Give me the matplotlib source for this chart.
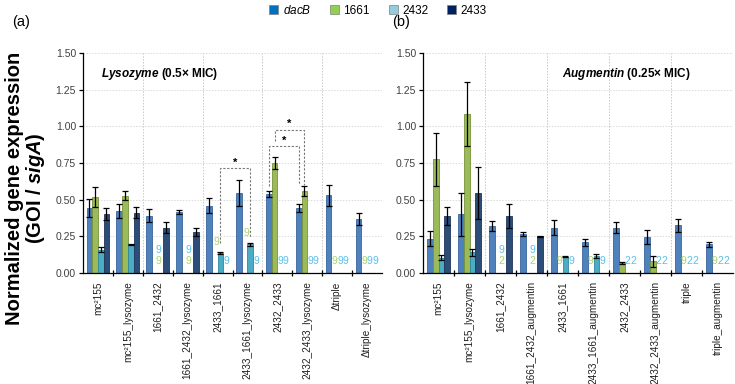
import numpy as np
import matplotlib
matplotlib.use("Agg")
import matplotlib.pyplot as plt
from matplotlib.patches import Patch

plt.rcParams['font.family'] = ['Liberation Sans', 'DejaVu Sans']
plt.rcParams['mathtext.fontset'] = 'custom'
plt.rcParams['mathtext.rm'] = 'Liberation Sans'
plt.rcParams['mathtext.it'] = 'Liberation Sans:italic'
plt.rcParams['mathtext.bf'] = 'Liberation Sans:bold'
plt.rcParams['mathtext.bfit'] = 'Liberation Sans:bold:italic'

nan = np.nan
series = ['dacB', '1661', '2432', '2433']

# ---- Panel (a): Lysozyme
left_categories = ['mc²155', 'mc²155_lysozyme', '1661_2432', '1661_2432_lysozyme',
                   '2433_1661', '2433_1661_lysozyme', '2432_2433', '2432_2433_lysozyme',
                   'Δtriple', 'Δtriple_lysozyme']
left_dacB = [0.445, 0.425, 0.39, 0.415, 0.46, 0.545, 0.54, 0.445, 0.53, 0.37]
left_dacB_err = [0.06, 0.048, 0.045, 0.012, 0.05, 0.09, 0.02, 0.027, 0.07, 0.04]
left_1661 = [0.515, 0.528, nan, nan, nan, nan, 0.75, 0.56, nan, nan]
left_1661_err = [0.068, 0.028, nan, nan, nan, nan, 0.04, 0.035, nan, nan]
left_2432 = [0.16, 0.197, nan, nan, 0.134, 0.195, nan, nan, nan, nan]
left_2432_err = [0.02, 0.004, nan, nan, 0.006, 0.01, nan, nan, nan, nan]
left_2433 = [0.40, 0.41, 0.31, 0.277, nan, nan, nan, nan, nan, nan]
left_2433_err = [0.04, 0.037, 0.035, 0.027, nan, nan, nan, nan, nan, nan]
left_nd_chars = [['', '', '', ''], ['', '', '', ''], ['', '9', '9', ''], ['', '9', '9', ''],
                 ['', '9', '', '9'], ['', '9', '', '9'], ['', '', '9', '9'], ['', '', '9', '9'],
                 ['', '9', '9', '9'], ['', '9', '9', '9']]

# ---- Panel (b): Augmentin
right_categories = ['mc²155', 'mc²155_lysozyme', '1661_2432', '1661_2432_augmentin',
                    '2433_1661', '2433_1661_augmentin', '2432_2433', '2432_2433_augmentin',
                    'triple', 'triple_augmentin']
right_dacB = [0.235, 0.40, 0.32, 0.265, 0.31, 0.21, 0.31, 0.245, 0.325, 0.195]
right_dacB_err = [0.05, 0.145, 0.035, 0.015, 0.05, 0.025, 0.035, 0.05, 0.045, 0.015]
right_1661 = [0.775, 1.085, nan, nan, nan, nan, 0.07, 0.08, nan, nan]
right_1661_err = [0.18, 0.22, nan, nan, nan, nan, 0.008, 0.036, nan, nan]
right_2432 = [0.105, 0.14, nan, nan, 0.11, 0.115, nan, nan, nan, nan]
right_2432_err = [0.015, 0.025, nan, nan, 0.003, 0.012, nan, nan, nan, nan]
right_2433 = [0.39, 0.545, 0.39, 0.25, nan, nan, nan, nan, nan, nan]
right_2433_err = [0.06, 0.18, 0.08, 0.003, nan, nan, nan, nan, nan, nan]
right_nd_chars = [['', '', '', ''], ['', '', '', ''], ['', '2', '9', ''], ['', '2', '9', ''],
                  ['', '9', '', '9'], ['', '9', '', '9'], ['', '', '2', '2'], ['', '', '2', '2'],
                  ['', '9', '2', '2'], ['', '9', '2', '2']]

yticks = [0.00, 0.25, 0.50, 0.75, 1.00, 1.25, 1.50]

bar_colors = ['#4F81BD', '#9BBB59', '#4BACC6', '#2C4D78']
edge_colors = ['#3A659A', '#76923C', '#31859C', '#1F3656']
legend_colors = ['#0070C0', '#92D050', '#93CDDD', '#002060']
nd_colors = ['#4F81BD', '#A9D46E', '#5BC0EB', '#5BC0EB']

W, H = 735, 384
fig = plt.figure(figsize=(W / 100, H / 100), dpi=100)

ax_l = fig.add_axes([83 / W, 1 - 273 / H, 299 / W, 220 / H])
ax_r = fig.add_axes([423 / W, 1 - 273 / H, 310 / W, 220 / H])

bw = 0.19
offsets = np.array([-1.5, -0.5, 0.5, 1.5]) * bw


def draw_panel(ax, cats, vals, errs, nd_chars, lift):
    n = len(cats)
    centers = np.arange(n) + 0.5
    ax.set_xlim(0, n)
    ax.set_ylim(0, 1.5)
    for g in range(n // 2 - 1):
        ax.axvline(2 * (g + 1), color='#C8C8C8', lw=0.7, ls=(0, (1.5, 1.5)), zorder=0)
    ax.set_yticks(yticks)
    ax.set_yticklabels([f'{t:.2f}' for t in yticks], fontsize=7.5, color='#404040')
    ax.yaxis.grid(True, color='#DADADA', lw=0.7, ls=(0, (1.5, 1.5)), zorder=0)
    ax.set_axisbelow(True)
    for s in range(4):
        v = np.array(vals[s], dtype=float)
        e = np.array(errs[s], dtype=float)
        x = centers + offsets[s]
        ax.bar(x, v, width=bw, color=bar_colors[s], edgecolor=edge_colors[s], lw=0.6, zorder=2)
        ax.errorbar(x, v, yerr=e, fmt='none', ecolor='black', elinewidth=0.9,
                    capsize=2.3, capthick=0.9, zorder=3)
    # not-detected markers
    for g in range(n):
        chars = nd_chars[g]
        both = chars[1] and chars[2] and not chars[3]
        for s in range(4):
            c = chars[s]
            if not c:
                continue
            if both:
                xx = centers[g] + 0.02
                yy = 0.125 if s == 2 else 0.045
            else:
                xx = centers[g] + offsets[s]
                yy = 0.045
                if lift and s == 1 and not np.isnan(vals[2][g]):
                    xx = centers[g] + offsets[1] + 0.07
                    yy = vals[2][g] + errs[2][g] + 0.035
            ax.text(xx, yy, c, color=nd_colors[s], fontsize=7.5, ha='center',
                    va='bottom', zorder=4)
    # ticks
    ax.set_xticks(np.arange(1, n))
    ax.set_xticklabels([])
    ax.tick_params(axis='x', which='major', direction='inout', length=5, width=0.9, color='black')
    ax.set_xticks(centers, minor=True)
    ax.set_xticklabels(cats, minor=True, rotation=90, fontsize=7.2, color='#202020',
                       va='top', ha='center')
    ax.tick_params(axis='x', which='minor', length=0, pad=6)
    ax.tick_params(axis='y', direction='out', length=3, width=0.9, pad=2)
    for sp in ['top', 'right']:
        ax.spines[sp].set_visible(False)
    for sp in ['left', 'bottom']:
        ax.spines[sp].set_linewidth(0.9)
        ax.spines[sp].set_color('black')
    return centers


c_l = draw_panel(ax_l, left_categories,
                 [left_dacB, left_1661, left_2432, left_2433],
                 [left_dacB_err, left_1661_err, left_2432_err, left_2433_err],
                 left_nd_chars, True)
c_r = draw_panel(ax_r, right_categories,
                 [right_dacB, right_1661, right_2432, right_2433],
                 [right_dacB_err, right_1661_err, right_2432_err, right_2433_err],
                 right_nd_chars, False)

# panel titles
ax_l.text(0.06, 0.905, r'$\mathbfit{Lysozyme}$ (0.5× MIC)', transform=ax_l.transAxes,
          fontsize=8.5, fontweight='bold', ha='left', va='center')
ax_r.text(0.45, 0.905, r'$\mathbfit{Augmentin}$ (0.25× MIC)', transform=ax_r.transAxes,
          fontsize=8.5, fontweight='bold', ha='left', va='center')

# significance brackets (left panel)
def bracket(ax, x1, x2, ytop, y1, y2):
    ax.plot([x1, x1, x2, x2], [y1, ytop, ytop, y2], color='#777777', lw=0.8,
            ls=(0, (2, 1.5)), zorder=5)
    ax.text((x1 + x2) / 2, ytop + 0.005, '*', ha='center', va='bottom', fontsize=8,
            fontweight='bold', zorder=5)

bracket(ax_l, c_l[4] + offsets[2], c_l[5] + offsets[2], 0.715, 0.205, 0.245)
bracket(ax_l, c_l[6] + offsets[0], c_l[7] + offsets[0], 0.865, 0.59, 0.60)
bracket(ax_l, c_l[6] + offsets[1], c_l[7] + offsets[1], 0.975, 0.90, 0.60)

# panel letters
fig.text(12 / W, 1 - 22 / H, '(a)', fontsize=10.5, ha='left', va='center')
fig.text(392 / W, 1 - 22 / H, '(b)', fontsize=10.5, ha='left', va='center')

# y label
fig.text(26 / W, 1 - 188 / H, 'Normalized gene expression\n(GOI / $\\mathbfit{sigA}$)',
         rotation=90, ha='center', va='center', fontsize=14.5, fontweight='bold',
         multialignment='center', linespacing=1.05)

# legend
handles = [Patch(facecolor=legend_colors[i], edgecolor='#7F7F7F', lw=0.5) for i in range(4)]
labels = [r'$\mathit{dacB}$', '1661', '2432', '2433']
fig.legend(handles, labels, loc='center', bbox_to_anchor=(378 / W, 1 - 10 / H), ncol=4,
           frameon=False, fontsize=8.5, handlelength=0.75, handleheight=0.75,
           handletextpad=0.4, columnspacing=1.6, borderpad=0)

fig.savefig('out.png', dpi=100)
